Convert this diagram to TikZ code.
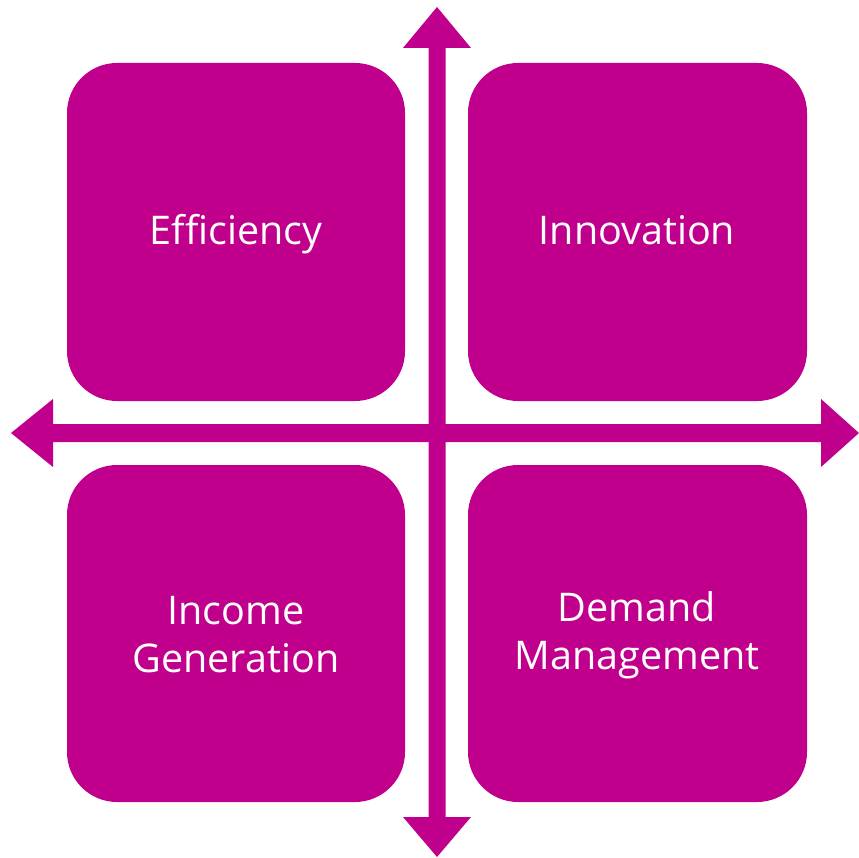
\documentclass[tikz,border=0pt]{standalone}
\usepackage{fontspec}
\setmainfont[Ligatures=NoCommon]{Open Sans}
\definecolor{mag}{RGB}{192,0,140}
\begin{document}
\begin{tikzpicture}[x=1pt,y=-1pt,
  quad/.style={fill=mag,draw=none,rounded corners=50pt},
  lbl/.style={text=white,align=center,inner sep=0pt,font=\fontsize{39.5}{48}\selectfont},
  arrowshape/.style={fill=mag,draw=none}]
\useasboundingbox (0,0) rectangle (859,858);
% boxes
\fill[quad] (67,63) rectangle (405,401);
\fill[quad] (468,63) rectangle (807,401);
\fill[quad] (67,465) rectangle (405,802);
\fill[quad] (468,465) rectangle (807,802);
% labels
\node[lbl,anchor=base] (eff) at (236,245) {Efficiency};
\node[lbl,anchor=base] (inn) at (637,245) {Innovation};
\node[lbl] (inc) at (236,635) {Income\\Generation};
\node[lbl] (dem) at (637,635) {Demand\\Management};
% vertical double arrow
\coordinate (vt) at (437,7);
\coordinate (vb) at (437,857);
\fill[arrowshape] (vt) -- (471,48) -- (445.5,48) -- (445.5,817) -- (471,817) -- (vb)
  -- (403,817) -- (428.5,817) -- (428.5,48) -- (403,48) -- cycle;
% horizontal double arrow
\coordinate (hl) at (11,433);
\coordinate (hr) at (859,433);
\fill[arrowshape] (hl) -- (53,399) -- (53,424) -- (821,424) -- (821,399) -- (hr)
  -- (821,467) -- (821,442) -- (53,442) -- (53,467) -- cycle;
\end{tikzpicture}
\end{document}
